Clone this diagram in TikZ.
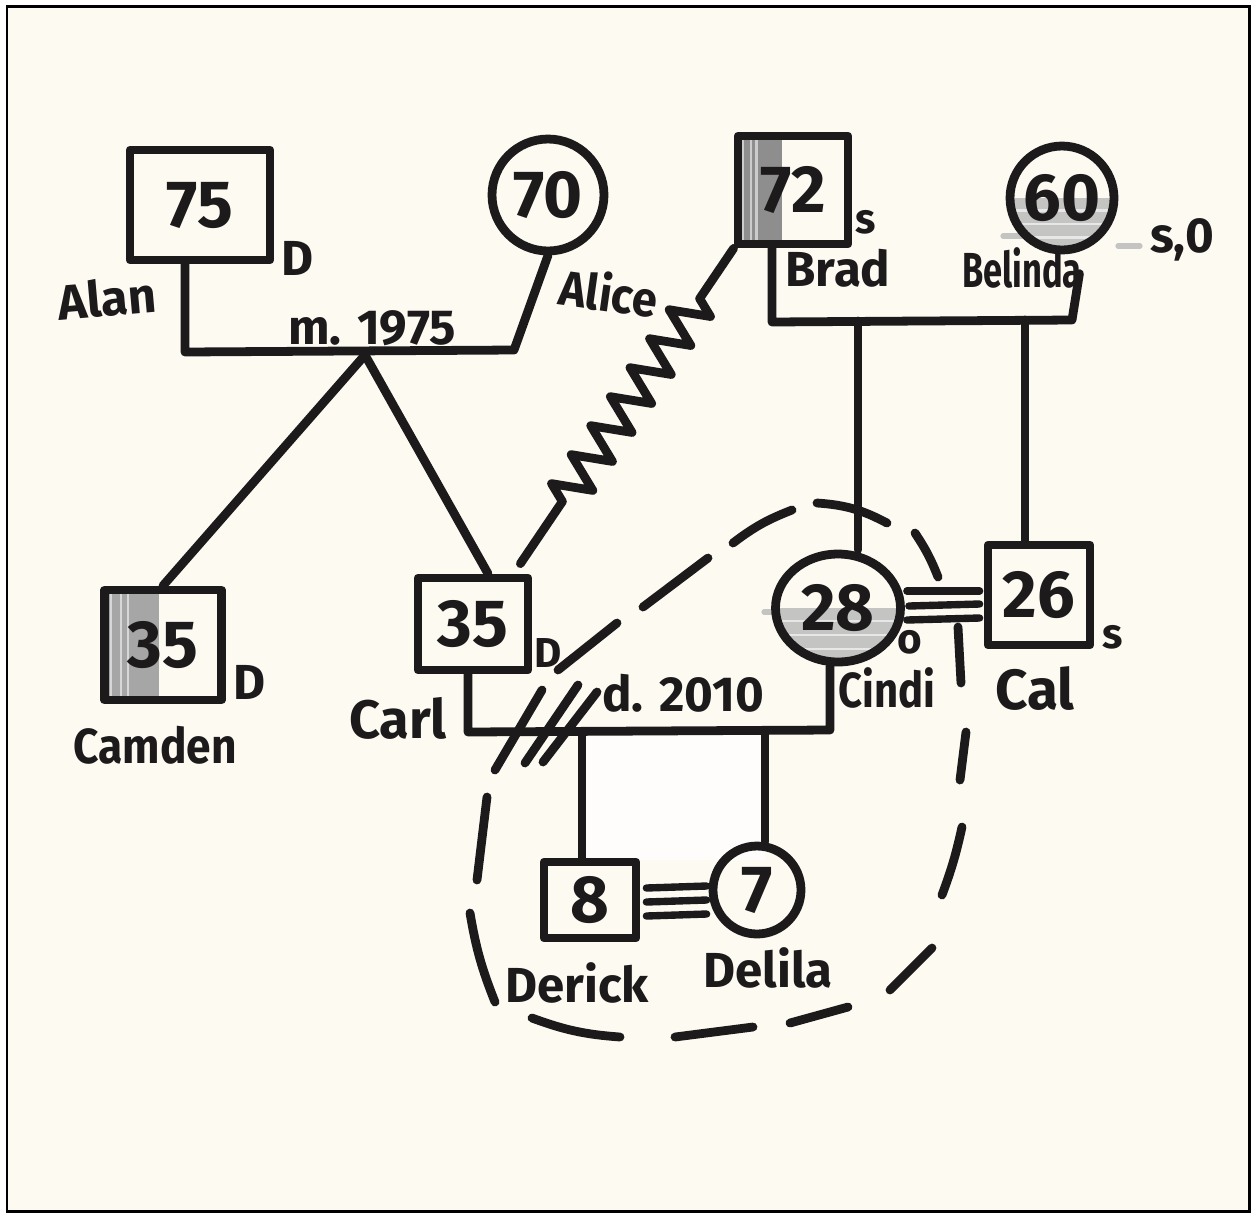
\documentclass[tikz,border=0pt]{standalone}
\usepackage{fontspec}
\setmainfont{Fira Sans}
\usetikzlibrary{calc,shapes.geometric,decorations.pathmorphing}
\definecolor{paper}{HTML}{FDFAF2}
\definecolor{ink}{HTML}{1C1A1B}
\definecolor{shadeDark}{HTML}{8E8E8E}
\definecolor{shadeMid}{HTML}{A6A6A6}
\definecolor{shadeLight}{HTML}{C4C4C2}
\tikzset{
  pen/.style={draw=ink, line width=5pt, line cap=round, line join=round},
  male/.style={pen, rectangle, inner sep=0pt},
  female/.style={pen, ellipse, inner sep=0pt},
  agetext/.style={font=\fontsize{38}{40}\selectfont\bfseries, text=ink, inner sep=0pt},
  pname/.style={font=\fontsize{28}{30}\selectfont\bfseries, text=ink, inner sep=0pt},
  sidetag/.style={font=\fontsize{28}{30}\selectfont\bfseries, text=ink, inner sep=0pt},
  sidetagsmall/.style={font=\fontsize{24}{26}\selectfont\bfseries, text=ink, inner sep=0pt},
  relnote/.style={font=\fontsize{28}{30}\selectfont\bfseries, text=ink, inner sep=0pt},
  conn/.style={pen},
  bondline/.style={pen, line width=4.2pt},
  dashbit/.style={pen},
  leftshade/.style n args={2}{path picture={
      \fill[#2] (path picture bounding box.south west) rectangle
        ($(path picture bounding box.north west)!#1!(path picture bounding box.north east)$);
      \foreach \f in {0.12,0.3,0.42}
        \draw[white!55!#2, line width=1.2pt]
          ($(path picture bounding box.north west)!\f*#1!(path picture bounding box.north east)$) --
          ($(path picture bounding box.south west)!\f*#1!(path picture bounding box.south east)$);}},
  lowershade/.style={path picture={
      \fill[shadeLight] ($(path picture bounding box.north west)!#1!(path picture bounding box.south west)$)
        rectangle (path picture bounding box.south east);
      \foreach \f in {0.62,0.75,0.88}
        \draw[white!60!shadeLight, line width=1.2pt]
          ($(path picture bounding box.north west)!\f!(path picture bounding box.south west)$) --
          ($(path picture bounding box.north east)!\f!(path picture bounding box.south east)$);}},
}
\begin{document}
\begin{tikzpicture}[x=0.02cm,y=-0.02cm]
% sheet and frame
\fill[white] (0,0) rectangle (1254,1215);
\fill[paper] (7,6) rectangle (1249,1211);
\draw[line width=1.7pt, black] (7,6) rectangle (1249,1211);
\useasboundingbox (0,0) rectangle (1254,1215);

% pale panel between the two children
\coordinate (k3) at (582,732);
\coordinate (k4) at (765,731);
\fill[white!70!paper] (k3) rectangle (765,860);

% shading strokes that overshoot the circles
\draw[shadeLight, line width=3pt, line cap=round] (1003,236) -- (1022,236);
\draw[shadeLight, line width=3pt, line cap=round] (1118,246) -- (1140,246);
\draw[shadeLight, line width=3pt, line cap=round] (764,612) -- (780,612);

% people
\node[male, minimum width=2.8cm, minimum height=2.2cm, label={[agetext]center:75}] (alan) at (200,205) {};
\node[female, minimum width=2.24cm, minimum height=2.24cm, label={[agetext]center:70}] (alice) at (548,195) {};
\node[male, leftshade={0.47}{shadeMid}, minimum width=2.34cm, minimum height=2.2cm, label={[agetext]center:35}] (camden) at (163,645) {};
\node[male, minimum width=2.2cm, minimum height=1.84cm, label={[agetext]center:35}] (carl) at (473,624) {};
\node[male, leftshade={0.4}{shadeDark}, minimum width=2.2cm, minimum height=2.16cm, label={[agetext]center:72}] (brad) at (793,190) {};
\node[female, lowershade=0.5, minimum width=2.08cm, minimum height=2.08cm, label={[agetext]center:60}] (belinda) at (1062,198) {};
\node[female, lowershade=0.5, minimum width=2.5cm, minimum height=2.16cm, label={[agetext]center:28}] (cindi) at (838,608) {};
\node[male, minimum width=2.04cm, minimum height=2.0cm, label={[agetext]center:26}] (cal) at (1039,595) {};
\node[male, minimum width=1.84cm, minimum height=1.52cm, label={[agetext]center:8}] (derick) at (590,900) {};
\node[female, minimum width=1.76cm, minimum height=1.76cm, label={[agetext]center:7}] (delila) at (757,890) {};

% names
\node[pname, rotate=5] (alanN) at (107,298) {Alan};
\node[pname, rotate=-8, xscale=0.92] (aliceN) at (609,292) {Alice};
\node[pname, xscale=0.9] (camdenN) at (155,745) {Camden};
\node[pname, scale=1.1] (carlN) at (398,718) {Carl};
\node[pname] (bradN) at (838,268) {Brad};
\node[pname, xscale=0.7] (belindaN) at (1022,268) {Belinda};
\node[pname, xscale=0.85] (cindiN) at (887,688) {Cindi};
\node[pname, scale=1.15] (calN) at (1035,688) {Cal};
\node[pname] (derickN) at (577,983) {Derick};
\node[pname] (delilaN) at (768,968) {Delila};

% markers beside the symbols
\node[sidetag] (alanD) at (298,258) {D};
\node[sidetag] (camdenD) at (250,682) {D};
\node[sidetag, scale=0.85] (carlD) at (548,653) {D};
\node[sidetagsmall] (bradS) at (866,222) {s};
\node[sidetag] (belindaS) at (1182,240) {s,0};
\node[sidetagsmall] (cindiO) at (910,642) {o};
\node[sidetagsmall] (calS) at (1113,637) {s};

% relationship notes
\node[relnote] (married) at (372,328) {m. 1975};
\node[relnote] (divorced) at (683,693) {d. 2010};

% Alan and Alice
\coordinate (alanS) at (185,352);
\coordinate (aliceS) at (514,350);
\coordinate (m1) at (365,355);
\draw[conn] (alan.south -| alanS) -- (alanS) -- (aliceS) -- (alice.south);
\draw[conn] (m1) -- (camden.north);
\draw[conn] (m1) -- ($(carl.north)+(15,0)$);

% conflict between Carl and Brad
\draw[conn, decorate, decoration={zigzag, segment length=0.7cm, amplitude=0.38cm,
      pre length=1.5cm, post length=1.1cm}]
  ($(carl.north east)+(-12,-10)$) -- (brad.south west);

% Brad and Belinda
\coordinate (bbL) at (772,322);
\coordinate (bbR) at (1072,320);
\coordinate (k1) at (858,321);
\coordinate (k2) at (1025,320);
\draw[conn] (brad.south -| bbL) -- (bbL) -- (bbR) -- ($(belinda.-72)+(0,22)$);
\draw[conn] (k1) -- (cindi.north -| k1);
\draw[conn] (k2) -- (cal.north -| k2);

% close bond between Cindi and Cal
\draw[bondline] ($(cindi.east)+(2,-17)$) -- ($(cal.west)+(-4,-4)$);
\draw[bondline] ($(cindi.east)+(4,-2)$)  -- ($(cal.west)+(-4,9)$);
\draw[bondline] ($(cindi.east)+(2,12)$)  -- ($(cal.west)+(-4,23)$);

% Carl and Cindi, divorced
\coordinate (cS) at (468,732);
\coordinate (dS) at (830,730);
\draw[conn] (carl.south -| cS) -- (cS) -- (dS) -- (cindi.south -| dS);
\draw[conn] (542,690) -- (495,770);
\draw[conn] (578,685) -- (525,763);
\draw[conn] (597,692) -- (543,762);

% their children
\draw[conn] (k3) -- (derick.north -| k3);
\draw[conn] (k4) -- (delila.north -| k4);
\draw[bondline] ($(derick.east)+(6,-12)$) -- ($(delila.west)+(-2,-4)$);
\draw[bondline] ($(derick.east)+(6,2)$)   -- ($(delila.west)+(-2,10)$);
\draw[bondline] ($(derick.east)+(6,16)$)  -- ($(delila.west)+(-2,24)$);

% dashed household boundary
\draw[dashbit] (558,670) -- (617,623);
\draw[dashbit] (643,607) -- (708,558);
\draw[dashbit] (733,543) to[bend left=8] (792,510);
\draw[dashbit] (817,503) to[bend left=12] (887,523);
\draw[dashbit] (915,533) to[bend left=6] (938,577);
\draw[dashbit] (958,627) -- (961,683);
\draw[dashbit] (966,732) -- (960,780);
\draw[dashbit] (962,827) to[bend left=4] (942,895);
\draw[dashbit] (932,948) -- (890,990);
\draw[dashbit] (848,1007) -- (790,1023);
\draw[dashbit] (753,1027) -- (675,1037);
\draw[dashbit] (620,1037) to[bend left=8] (532,1018);
\draw[dashbit] (495,1002) to[bend left=6] (470,913);
\draw[dashbit] (477,880) -- (487,797);
\end{tikzpicture}
\end{document}
